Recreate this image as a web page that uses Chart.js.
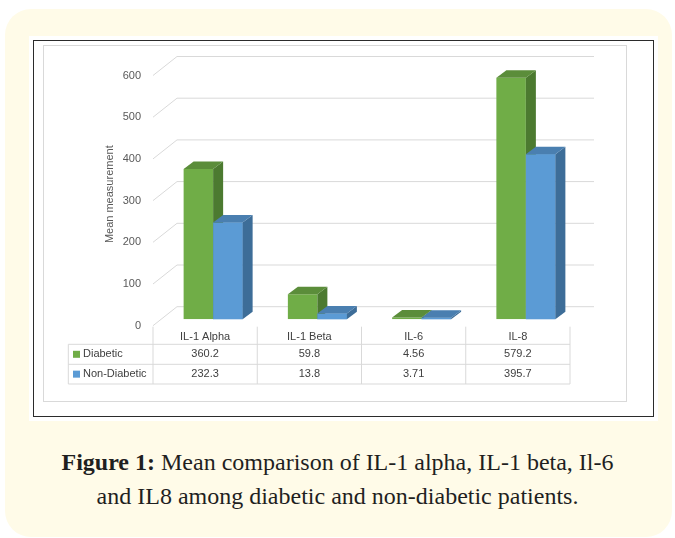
<!DOCTYPE html>
<html lang="en">
<head>
  <meta charset="UTF-8" />
  <title>Figure 1</title>
  <script src="https://cdn.jsdelivr.net/npm/chart.js@4.4.1/dist/chart.umd.min.js"></script>
  <style>
    * { margin: 0; padding: 0; }
    body { width: 675px; height: 538px; background: #fff; position: relative; overflow: hidden; }
    .card {
      position: absolute; left: 5px; top: 9px; width: 667px; height: 528px;
      background: #fffbe8; border-radius: 26px;
    }
    .panel {
      position: absolute; left: 29px; top: 36px; width: 629px; height: 385px; background: #fff;
    }
    .frame {
      position: absolute; left: 33px; top: 40px; width: 619px; height: 375px;
      border: 1.5px solid #2b2b2b;
    }
    .caption {
      position: absolute; left: 0; top: 445px; width: 675px; text-align: center;
      font-family: "Liberation Serif", "DejaVu Serif", serif; font-size: 24px;
      line-height: 34px; color: #1f1f1f;
    }
    #myChart { position: absolute; left: 0; top: 0; }
  </style>
</head>
<body>
  <div class="card"></div>
  <div class="panel"></div>
  <div class="frame"></div>
  <div class="caption"><b>Figure 1:</b> Mean comparison of IL-1 alpha, IL-1 beta, Il-6<br>and IL8 among diabetic and non-diabetic patients.</div>
  <canvas id="myChart" width="675" height="538"></canvas>
  <script>
    const categories = ["IL-1 Alpha", "IL-1 Beta", "IL-6", "IL-8"];
    const diabetic = [360.2, 59.8, 4.56, 579.2];
    const nonDiabetic = [232.3, 13.8, 3.71, 395.7];
    const yTicks = [0, 100, 200, 300, 400, 500, 600];

    const green = { front: "#70ad47", side: "#4c7a30", top: "#5b8d3a" };
    const blue = { front: "#5b9bd5", side: "#3d6d98", top: "#4a7fb0" };
    const gridColor = "#d9d9d9";
    const textColor = "#404040";

    // depth of the floor, seen from the bar plane
    const frontDx = -8, frontDy = 6.4, backDx = 16, backDy = -12.6;
    // depth of a single bar
    const barDx = 10, barDy = -7.5;

    let poly = (ctx, pts, color) => {
      ctx.beginPath();
      ctx.moveTo(pts[0][0], pts[0][1]);
      for (let i = 1; i < pts.length; i++) ctx.lineTo(pts[i][0], pts[i][1]);
      ctx.closePath();
      ctx.fillStyle = color;
      ctx.fill();
    };

    let barFaces = (ctx, el, col) => {
      const l = el.x - el.width / 2, r = el.x + el.width / 2;
      const t = el.y, b = el.base;
      poly(ctx, [[r, t], [r + barDx, t + barDy], [r + barDx, b + barDy], [r, b]], col.side);
      poly(ctx, [[l, t], [l + barDx, t + barDy], [r + barDx, t + barDy], [r, t]], col.top);
    };

    const walls = {
      id: "walls",
      beforeDatasetsDraw(chart) {
        const ctx = chart.ctx;
        const { x, y } = chart.scales;
        ctx.save();
        ctx.strokeStyle = gridColor;
        ctx.lineWidth = 1;
        ctx.strokeRect(43.5, 45.5, 583, 356);
        yTicks.forEach(v => {
          const py = y.getPixelForValue(v);
          ctx.beginPath();
          ctx.moveTo(x.left + frontDx, py + frontDy);
          ctx.lineTo(x.left + backDx, py + backDy);
          ctx.lineTo(x.right + backDx, py + backDy);
          ctx.stroke();
        });
        ctx.restore();
      },
      afterDatasetsDraw(chart) {
        const ctx = chart.ctx;
        const g = chart.getDatasetMeta(0).data;
        const b = chart.getDatasetMeta(1).data;
        ctx.save();
        for (let i = 0; i < categories.length; i++) {
          barFaces(ctx, g[i], green);
          b[i].draw(ctx);
          barFaces(ctx, b[i], blue);
        }
        ctx.restore();
      },
      afterDraw(chart) {
        const ctx = chart.ctx;
        const x = chart.scales.x;
        const cw = (x.right - x.left) / categories.length;
        const edges = [];
        for (let i = 0; i <= categories.length; i++) edges.push(x.left + frontDx + i * cw);
        const top = 326.7, r1 = 344.3, r2 = 364.3, r3 = 384, left = 68.3;

        ctx.save();
        ctx.strokeStyle = gridColor;
        ctx.lineWidth = 1;
        ctx.beginPath();
        edges.forEach(ex => { ctx.moveTo(ex, top); ctx.lineTo(ex, r3); });
        ctx.moveTo(left, r1); ctx.lineTo(left, r3);
        [r1, r2, r3].forEach(ry => { ctx.moveTo(left, ry); ctx.lineTo(edges[edges.length - 1], ry); });
        ctx.stroke();

        ctx.font = "11px 'Liberation Sans', Arial, sans-serif";
        ctx.fillStyle = textColor;
        ctx.textBaseline = "middle";
        ctx.textAlign = "center";
        categories.forEach((c, i) => {
          const cx = (edges[i] + edges[i + 1]) / 2;
          ctx.fillText(c, cx, (top + r1) / 2 + 1);
          ctx.fillText(String(diabetic[i]), cx, (r1 + r2) / 2);
          ctx.fillText(String(nonDiabetic[i]), cx, (r2 + r3) / 2);
        });

        ctx.textAlign = "left";
        ctx.fillStyle = green.front;
        ctx.fillRect(73, (r1 + r2) / 2 - 3.5, 7, 7);
        ctx.fillStyle = blue.front;
        ctx.fillRect(73, (r2 + r3) / 2 - 3.5, 7, 7);
        ctx.fillStyle = textColor;
        ctx.fillText("Diabetic", 83, (r1 + r2) / 2);
        ctx.fillText("Non-Diabetic", 83, (r2 + r3) / 2);
        ctx.restore();
      }
    };

    const data = {
      labels: categories,
      datasets: [
        { label: "Diabetic", data: diabetic, backgroundColor: green.front, borderWidth: 0 },
        { label: "Non-Diabetic", data: nonDiabetic, backgroundColor: blue.front, borderWidth: 0 }
      ]
    };

    const options = {
      responsive: false,
      animation: false,
      devicePixelRatio: 1,
      categoryPercentage: 0.566,
      barPercentage: 1,
      layout: { padding: { left: 95, top: 69.1, right: 97, bottom: 218.7 } },
      plugins: { legend: { display: false }, tooltip: { enabled: false } },
      scales: {
        x: { display: false },
        y: {
          min: 0,
          max: 600,
          afterFit: (s) => { s.width = 66; },
          grid: { display: false, drawTicks: false },
          border: { display: false },
          ticks: {
            stepSize: 100,
            padding: 20,
            labelOffset: 6.4,
            color: "#595959",
            font: { family: "'Liberation Sans', Arial, sans-serif", size: 11 }
          },
          title: {
            display: true,
            text: "Mean measurement",
            color: "#595959",
            padding: { top: 8.4, bottom: 0 },
            font: { family: "'Liberation Sans', Arial, sans-serif", size: 11 }
          }
        }
      }
    };

    const myChart = new Chart(document.getElementById("myChart"), {
      type: "bar",
      data: data,
      options: options,
      plugins: [walls]
    });
  </script>
</body>
</html>
